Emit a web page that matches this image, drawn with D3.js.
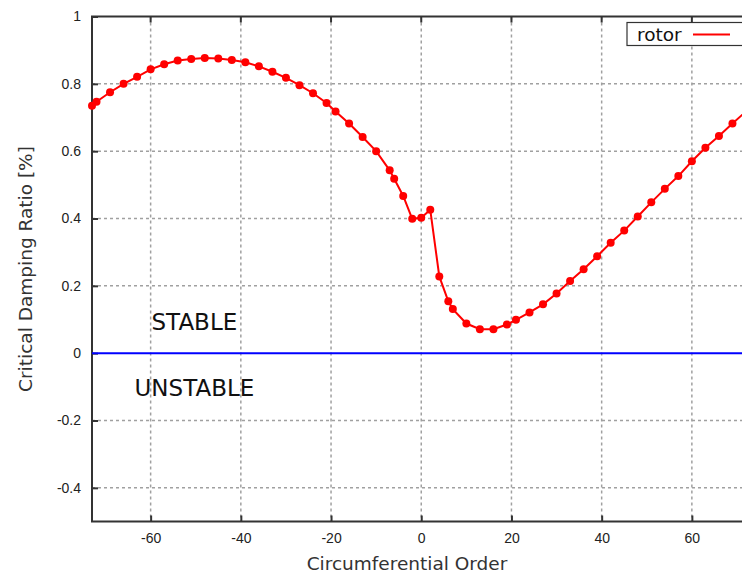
<!DOCTYPE html>
<html>
<head>
<meta charset="utf-8">
<script src="https://cdn.jsdelivr.net/npm/d3@7"></script>
<style>
  body { margin: 0; background: #fff; }
  svg { display: block; font-family: "DejaVu Sans", sans-serif; }
</style>
</head>
<body>
<div id="chart"></div>
<script>
// circumferential order vs critical damping ratio
const orders = [-73, -72, -69, -66, -63, -60, -57, -54, -51, -48, -45, -42, -39,
  -36, -33, -30, -27, -24, -21, -19, -16, -13, -10, -7, -6, -4, -2, 0, 2,
  4, 6, 7, 10, 13, 16, 19, 21, 24, 27, 30, 33, 36, 39, 42, 45, 48, 51, 54,
  57, 60, 63, 66, 69, 72];
const damping = [0.735, 0.747, 0.775, 0.800, 0.821, 0.843, 0.858, 0.869, 0.874, 0.877, 0.875, 0.871, 0.864,
  0.852, 0.836, 0.818, 0.796, 0.772, 0.743, 0.718, 0.682, 0.642, 0.600, 0.543, 0.518, 0.467, 0.399, 0.402, 0.426,
  0.228, 0.154, 0.131, 0.088, 0.071, 0.071, 0.085, 0.099, 0.121, 0.145, 0.177, 0.214, 0.249, 0.288, 0.328, 0.364, 0.406, 0.448, 0.488,
  0.526, 0.570, 0.610, 0.645, 0.682, 0.718];
const xTicks = [-60, -40, -20, 0, 20, 40, 60];
const yTicks = [-0.4, -0.2, 0, 0.2, 0.4, 0.6, 0.8, 1];

const W = 742, H = 574;
const pLeft = 92, pTop = 16.5, pBottom = 521.5, pRight = 750.5;

const svg = d3.select("#chart").append("svg").attr("width", W).attr("height", H);

const x = d3.scaleLinear().domain([-73, 73]).range([pLeft, pRight]);
const y = d3.scaleLinear().domain([-0.5, 1]).range([pBottom, pTop]);
const fmt = (d) => String(d); // plain hyphen minus, like the original

const grid = svg.append("g");
xTicks.forEach((t) => {
  grid.append("line")
    .attr("x1", x(t)).attr("x2", x(t)).attr("y1", pTop).attr("y2", pBottom)
    .attr("stroke", "#a0a0a0").attr("stroke-width", 1.5).attr("stroke-dasharray", "3,3");
});
yTicks.forEach((t) => {
  if (t === 0 || t === 1) return;
  grid.append("line")
    .attr("x1", pLeft).attr("x2", pRight).attr("y1", y(t)).attr("y2", y(t))
    .attr("stroke", "#a0a0a0").attr("stroke-width", 1.5).attr("stroke-dasharray", "3,3");
});

// axes with inward ticks
const xAxis = svg.append("g")
  .attr("transform", `translate(0,${pBottom})`)
  .call(d3.axisBottom(x).tickValues(xTicks).tickSize(-6).tickPadding(12).tickFormat(fmt));
const yAxis = svg.append("g")
  .attr("transform", `translate(${pLeft},0)`)
  .call(d3.axisLeft(y).tickValues(yTicks).tickSize(-6).tickPadding(11).tickFormat(fmt));
[xAxis, yAxis].forEach((a) => {
  a.select(".domain").remove();
  a.selectAll(".tick line").attr("stroke", "#333").attr("stroke-width", 2);
  a.selectAll(".tick text").attr("fill", "#222").style("font-size", "14px");
});

// top tick marks
xTicks.forEach((t) => {
  svg.append("line").attr("x1", x(t)).attr("x2", x(t)).attr("y1", pTop).attr("y2", pTop + 6)
    .attr("stroke", "#333").attr("stroke-width", 2);
});

// frame
svg.append("path")
  .attr("d", `M${pRight},${pTop}H${pLeft}V${pBottom}H${pRight}`)
  .attr("fill", "none").attr("stroke", "#333").attr("stroke-width", 2);

// zero line
svg.append("line")
  .attr("x1", pLeft).attr("x2", pRight).attr("y1", y(0)).attr("y2", y(0))
  .attr("stroke", "#0000ff").attr("stroke-width", 2);

// data
const pts = orders.map((o, i) => [o, damping[i]]);
const line = d3.line().x((d) => x(d[0])).y((d) => y(d[1]));
svg.append("path").datum(pts)
  .attr("d", line).attr("fill", "none").attr("stroke", "#ff0000").attr("stroke-width", 2);
svg.append("g").selectAll("circle").data(pts).enter().append("circle")
  .attr("cx", (d) => x(d[0])).attr("cy", (d) => y(d[1])).attr("r", 4)
  .attr("fill", "#ff0000");

// annotations
svg.append("text").attr("x", x(-50.3)).attr("y", y(0.093)).attr("text-anchor", "middle")
  .attr("dominant-baseline", "central").style("font-size", "23px").attr("fill", "#111").text("STABLE");
svg.append("text").attr("x", x(-50.3)).attr("y", y(-0.103)).attr("text-anchor", "middle")
  .attr("dominant-baseline", "central").style("font-size", "23px").attr("fill", "#111").text("UNSTABLE");

// legend
const lg = svg.append("g");
lg.append("rect").attr("x", 627).attr("y", 22.5).attr("width", 124).attr("height", 23)
  .attr("fill", "#fff").attr("stroke", "#333").attr("stroke-width", 1.2);
lg.append("text").attr("x", 637).attr("y", 34).attr("dominant-baseline", "central")
  .style("font-size", "18.5px").attr("fill", "#111").text("rotor");
lg.append("line").attr("x1", 693).attr("x2", 730).attr("y1", 34.5).attr("y2", 34.5)
  .attr("stroke", "#ff0000").attr("stroke-width", 2);

// axis titles
svg.append("text").attr("x", 407).attr("y", 563).attr("text-anchor", "middle")
  .attr("dominant-baseline", "central").style("font-size", "18.5px").attr("fill", "#333")
  .text("Circumferential Order");
svg.append("text").attr("transform", `translate(25,${(pTop + pBottom) / 2}) rotate(-90)`)
  .attr("text-anchor", "middle").attr("dominant-baseline", "central")
  .style("font-size", "18.5px").attr("fill", "#333").text("Critical Damping Ratio [%]");
</script>
</body>
</html>
